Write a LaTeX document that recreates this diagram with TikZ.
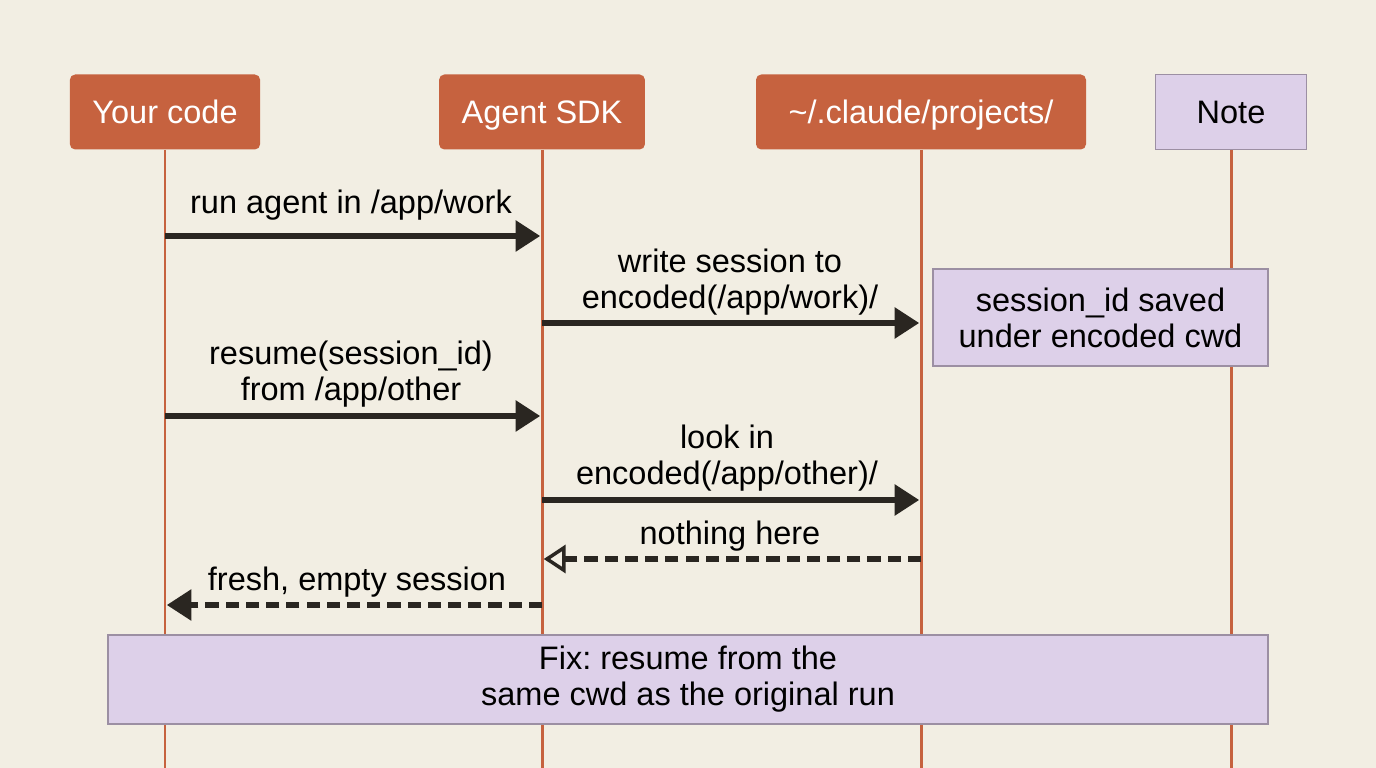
\documentclass[tikz,border=0pt]{standalone}
\usepackage{fontspec}
\setmainfont{Liberation Sans}
\frenchspacing
\usetikzlibrary{arrows.meta}
\definecolor{paper}{HTML}{F2EEE3}
\definecolor{rust}{HTML}{C6623F}
\definecolor{lilac}{HTML}{DDD0E9}
\definecolor{lilacedge}{HTML}{9C8FA3}
\definecolor{ink}{HTML}{2A2621}

\begin{document}
\begin{tikzpicture}[x=0.2mm,y=-0.2mm,font=\fontsize{18.5}{20.5}\selectfont,
   actor/.style={fill=rust,text=white,rounded corners=3pt,inner xsep=4.5mm,minimum height=15mm,
     text height=13.2pt,text depth=0pt},
   notebox/.style={draw=lilacedge,line width=0.8pt,fill=lilac,align=center},
   life/.style={draw=rust,line width=1.7pt},
   lbl/.style={align=center,text=black,inner sep=0pt},
   msg/.style={draw=ink,line width=3.4pt,-{Triangle[length=14pt,width=17pt]},shorten >=1pt},
   reply/.style={msg,dash pattern=on 7.5pt off 4pt},
   noreply/.style={reply,-{Triangle[open,length=12.5pt,width=16pt,line width=2pt,fill=paper]}}]
  \useasboundingbox[fill=paper] (0,0) rectangle (1376,768);

  % actors and their lifelines
  \node[actor] (yc)  at (165,112) {Your code};
  \node[actor] (sdk) at (542,112) {Agent SDK};
  \node[actor,minimum width=66mm] (prj) at (921,112) {\textasciitilde/.claude/projects/};
  \node[notebox,minimum width=30.2mm,minimum height=15mm] (nt) at (1231,112) {Note};
  \coordinate (bot) at (0,768);
  \foreach \a in {yc,sdk,prj,nt}
    \draw[life] (\a.south) -- (\a.south |- bot);

  % rows of the exchange
  \coordinate (r1) at (0,236);
  \coordinate (r2) at (0,323);
  \coordinate (r3) at (0,416);
  \coordinate (r4) at (0,500);
  \coordinate (r5) at (0,559);
  \coordinate (r6) at (0,605);

  \node[lbl] (l1) at (351,205) {run agent in /app/work};
  \draw[msg] (yc |- r1) -- (sdk |- r1);
  \node[lbl] (l2) at (730,282) {write session to\\encoded(/app/work)/};
  \draw[msg] (sdk |- r2) -- (prj |- r2);
  \node[lbl] (l3) at (351,374) {resume(session\_id)\\from /app/other};
  \draw[msg] (yc |- r3) -- (sdk |- r3);
  \node[lbl] (l4) at (727,458) {look in\\encoded(/app/other)/};
  \draw[msg] (sdk |- r4) -- (prj |- r4);
  \node[lbl] (l5) at (730,536) {nothing here};
  \draw[noreply] (prj |- r5) -- (sdk |- r5);
  \node[lbl] (l6) at (357,582) {fresh, empty session};
  \draw[reply] (sdk |- r6) -- (yc |- r6);

  % notes on top of the lifelines
  \node[notebox,minimum width=67mm,minimum height=19.4mm] (saved) at (1100.5,317.5)
    {session\_id saved\\under encoded cwd};
  \node[notebox,minimum width=232mm,minimum height=17.8mm] (fix) at (688,679.5)
    {Fix: resume from the\\same cwd as the original run};
\end{tikzpicture}
\end{document}
